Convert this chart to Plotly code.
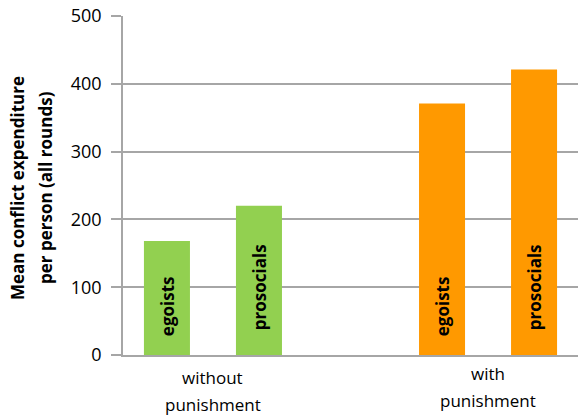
import plotly.graph_objects as go

conditions = ["without punishment", "with punishment"]
condition_lines = [["without", "punishment"], ["with", "punishment"]]
egoists = [168, 371]
prosocials = [220, 421]
bar_colors = ["#92D050", "#FF9900"]
y_ticks = [0, 100, 200, 300, 400, 500]
y_title_lines = ["Mean conflict expenditure", "per person (all rounds)"]

FONT = "Open Sans"
GRID = "#A6A6A6"
PLOT_H = 419 - 16 - 64  # plot area height in px
PLOT_W = 578 - 123

fig = go.Figure()
fig.add_trace(go.Bar(x=conditions, y=egoists, name="egoists",
                     marker=dict(color=bar_colors, line=dict(width=0))))
fig.add_trace(go.Bar(x=conditions, y=prosocials, name="prosocials",
                     marker=dict(color=bar_colors, line=dict(width=0))))

# rotated labels inside bars
for i, c in enumerate(conditions):
    fig.add_annotation(x=c, y=72, xref="x", yref="y", xshift=-46,
                       text="<b>egoists</b>", textangle=-90, showarrow=False,
                       font=dict(family=FONT, size=17, color="black"))
    fig.add_annotation(x=c, y=100, xref="x", yref="y", xshift=46,
                       text="<b>prosocials</b>", textangle=-90, showarrow=False,
                       font=dict(family=FONT, size=17, color="black"))

# category labels (two lines each, Excel-like spacing)
label_shift = [0, -4]
for i, c in enumerate(conditions):
    for j, line in enumerate(condition_lines[i]):
        py = 377 + 27 * j + label_shift[i]  # pixel from top
        fig.add_annotation(x=c, xref="x", yref="paper",
                           y=(419 - 64 - py) / PLOT_H, yanchor="middle",
                           text=line, showarrow=False,
                           font=dict(family=FONT, size=17, color="black"))

# y-axis title (two bold rotated lines)
for j, line in enumerate(y_title_lines):
    px = 17 + 28 * j
    fig.add_annotation(xref="paper", yref="paper",
                       x=(px - 123) / PLOT_W, y=0.5 + (355 - 188 - 339 / 2) / PLOT_H,
                       xanchor="center", yanchor="middle",
                       text="<b>" + line + "</b>", textangle=-90, showarrow=False,
                       font=dict(family=FONT, size=17, color="black"))

fig.update_layout(
    width=578, height=419,
    margin=dict(l=123, r=0, t=16, b=64),
    paper_bgcolor="white", plot_bgcolor="white",
    barmode="group", bargap=0.331, bargroupgap=0.5,
    showlegend=False,
    font=dict(family=FONT, size=18, color="black"),
)
fig.update_xaxes(
    type="category", range=[-0.327, 1.327],
    showticklabels=False,
    showgrid=False, showline=True, linecolor=GRID, linewidth=1.5,
    ticks="",
)
fig.update_yaxes(
    range=[0, 500], tickvals=y_ticks,
    showgrid=True, gridcolor=GRID, gridwidth=1.5,
    showline=True, linecolor=GRID, linewidth=1.5,
    ticks="outside", ticklen=10, tickcolor=GRID, tickwidth=1.5,
    ticklabelstandoff=6,
    zeroline=False,
    tickfont=dict(family=FONT, size=18, color="black"),
)

fig.write_html("out.html")
